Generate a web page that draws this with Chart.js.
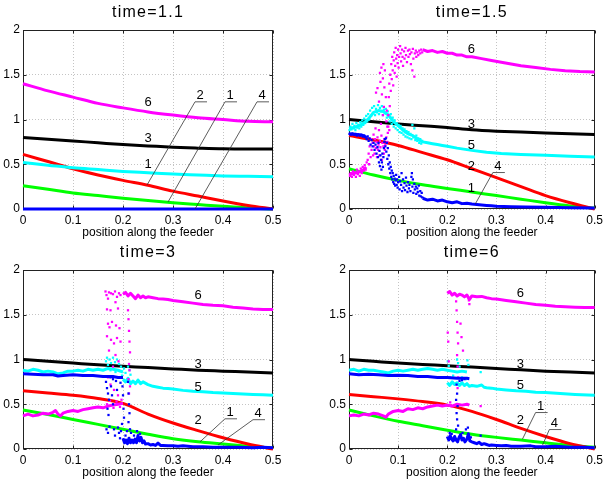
<!DOCTYPE html>
<html>
<head>
<meta charset="utf-8">
<script src="https://cdn.jsdelivr.net/npm/chart.js@4.4.1/dist/chart.umd.min.js"></script>
<style>
  body { margin: 0; background: #fff; }
  #wrap { position: relative; width: 607px; height: 485px; }
  #wrap canvas { position: absolute; }
</style>
</head>
<body>
<div id="wrap">
  <canvas id="c1" width="300" height="240" style="left:0;top:0"></canvas>
  <canvas id="c2" width="307" height="240" style="left:300px;top:0"></canvas>
  <canvas id="c3" width="300" height="245" style="left:0;top:240px"></canvas>
  <canvas id="c4" width="307" height="245" style="left:300px;top:240px"></canvas>
</div>
<script>
  // ---- data ----
  const positions = [0, 0.05, 0.1, 0.15, 0.2, 0.25, 0.3, 0.35, 0.4, 0.45, 0.5];
  const xTickValues = [0, 0.1, 0.2, 0.3, 0.4, 0.5];
  const yTickValues = [0, 0.5, 1, 1.5, 2];
  const panelTitles = ["time=1.1", "time=1.5", "time=3", "time=6"];
  const xAxisLabel = "position along the feeder";

  // time=1.1 (all smooth, on the positions grid)
  const t11Magenta = [1.40, 1.32, 1.25, 1.18, 1.13, 1.085, 1.05, 1.02, 1.0, 0.98, 0.975];
  const t11Black = [0.80, 0.78, 0.76, 0.74, 0.72, 0.705, 0.69, 0.68, 0.672, 0.67, 0.67];
  const t11Cyan = [0.52, 0.49, 0.46, 0.44, 0.42, 0.405, 0.39, 0.38, 0.37, 0.365, 0.36];
  const t11Red = [0.61, 0.53, 0.45, 0.38, 0.32, 0.265, 0.20, 0.145, 0.09, 0.04, 0.0];
  const t11Green = [0.26, 0.22, 0.18, 0.15, 0.12, 0.095, 0.07, 0.05, 0.03, 0.012, 0.0];
  const t11Blue = [0, 0, 0, 0, 0, 0, 0, 0, 0, 0, 0];
  const t11Labels = [[0.25, 1.195, "6"], [0.25, 0.79, "3"], [0.25, 0.50, "1"]];
  const t11Leaders = [[0.354, 1.27, "2", 0.248, 0.268], [0.414, 1.27, "1", 0.29, 0.078], [0.478, 1.27, "4", 0.344, 0.0]];

  // time=1.5
  const t15Black = [1.0, 0.975, 0.95, 0.93, 0.91, 0.885, 0.87, 0.86, 0.85, 0.84, 0.832];
  const t15Red = [0.82, 0.77, 0.71, 0.63, 0.55, 0.45, 0.35, 0.25, 0.15, 0.07, 0.0];
  const t15Green = [0.45, 0.38, 0.32, 0.27, 0.23, 0.19, 0.15, 0.11, 0.07, 0.035, 0.01];
  const t15MagentaLow = [[0, 0.38], [0.01, 0.40], [0.02, 0.41], [0.03, 0.44], [0.035, 0.47]];
  const t15MagentaHigh = [[0.15, 1.78], [0.16, 1.76], [0.17, 1.77], [0.18, 1.75], [0.19, 1.76], [0.2, 1.74], [0.21, 1.74],
    [0.22, 1.72], [0.23, 1.72], [0.24, 1.70], [0.25, 1.70], [0.27, 1.68], [0.29, 1.66], [0.31, 1.64], [0.33, 1.62],
    [0.35, 1.60], [0.38, 1.58], [0.41, 1.56], [0.44, 1.545], [0.47, 1.535], [0.5, 1.53]];
  const t15MagentaDots = [[0.002, 0.37], [0.004, 0.40], [0.006, 0.36], [0.008, 0.42], [0.010, 0.38], [0.012, 0.41],
    [0.014, 0.36], [0.016, 0.44], [0.018, 0.39], [0.020, 0.42], [0.022, 0.37], [0.024, 0.45], [0.026, 0.40],
    [0.028, 0.47], [0.030, 0.43], [0.032, 0.49], [0.034, 0.44], [0.036, 0.52], [0.038, 0.55], [0.040, 0.62],
    [0.041, 0.50], [0.042, 0.70], [0.044, 0.58], [0.045, 0.78], [0.046, 0.66], [0.048, 0.74], [0.049, 0.60],
    [0.050, 0.83], [0.051, 0.70], [0.052, 0.62], [0.053, 0.78], [0.054, 0.90], [0.055, 0.68], [0.056, 0.75],
    [0.057, 0.58], [0.058, 0.80], [0.059, 0.66], [0.060, 0.72], [0.061, 0.88], [0.062, 0.60], [0.063, 0.76],
    [0.064, 0.69], [0.065, 0.95], [0.066, 0.82], [0.067, 0.55], [0.068, 0.74], [0.069, 1.05], [0.055, 1.30],
    [0.058, 1.35], [0.061, 1.20], [0.063, 1.52], [0.064, 1.42], [0.066, 1.58], [0.067, 1.28], [0.069, 1.46],
    [0.070, 1.62], [0.071, 1.14], [0.072, 1.36], [0.073, 1.55], [0.075, 1.25], [0.076, 0.98], [0.077, 1.10],
    [0.078, 0.92], [0.070, 0.70], [0.071, 0.62], [0.072, 0.78], [0.073, 0.66], [0.074, 0.72], [0.076, 0.80],
    [0.078, 0.75], [0.079, 0.85], [0.080, 0.92], [0.082, 0.88], [0.080, 1.05], [0.081, 1.25], [0.082, 1.40],
    [0.083, 1.15], [0.084, 1.50], [0.085, 1.32], [0.086, 1.62], [0.087, 1.45], [0.088, 1.70], [0.089, 1.55],
    [0.090, 1.38], [0.091, 1.66], [0.092, 1.75], [0.093, 1.52], [0.094, 1.60], [0.095, 1.80], [0.096, 1.68],
    [0.097, 1.48], [0.098, 1.72], [0.099, 1.63], [0.100, 1.78], [0.101, 1.58], [0.102, 1.70], [0.104, 1.82],
    [0.105, 1.74], [0.106, 1.65], [0.108, 1.78], [0.109, 1.70], [0.110, 1.60], [0.112, 1.76], [0.113, 1.68],
    [0.115, 1.80], [0.116, 1.72], [0.118, 1.64], [0.120, 1.77], [0.121, 1.70], [0.123, 1.78], [0.124, 1.73],
    [0.126, 1.62], [0.127, 1.75], [0.129, 1.55], [0.130, 1.79], [0.131, 1.68], [0.133, 1.48], [0.134, 1.74],
    [0.136, 1.77], [0.137, 1.70], [0.139, 1.75], [0.141, 1.72], [0.143, 1.77], [0.145, 1.74], [0.147, 1.78],
    [0.149, 1.75]];
  const t15CyanLine = [[0, 0.90], [0.01, 0.91], [0.02, 0.93], [0.03, 0.96], [0.04, 1.01], [0.05, 1.08], [0.06, 1.10],
    [0.07, 1.09], [0.08, 1.05], [0.09, 0.98], [0.10, 0.93], [0.11, 0.88], [0.12, 0.84], [0.13, 0.82], [0.14, 0.78],
    [0.15, 0.75], [0.16, 0.74], [0.17, 0.73], [0.18, 0.72], [0.19, 0.71], [0.2, 0.70], [0.22, 0.68], [0.25, 0.655],
    [0.28, 0.635], [0.31, 0.62], [0.35, 0.61], [0.4, 0.60], [0.45, 0.59], [0.5, 0.58]];
  const t15CyanDots = [[0.001, 0.88], [0.003, 0.92], [0.005, 0.89], [0.007, 0.95], [0.009, 0.90], [0.011, 0.93],
    [0.013, 0.88], [0.015, 0.96], [0.017, 0.91], [0.019, 0.94], [0.021, 0.90], [0.023, 0.97], [0.025, 0.92],
    [0.027, 0.99], [0.029, 0.94], [0.031, 1.01], [0.033, 0.96], [0.035, 1.04], [0.037, 0.98], [0.039, 1.06],
    [0.041, 1.00], [0.043, 1.10], [0.045, 1.04], [0.047, 1.13], [0.049, 1.07], [0.051, 1.15], [0.053, 1.05],
    [0.055, 1.12], [0.057, 1.08], [0.059, 1.16], [0.061, 1.06], [0.063, 1.13], [0.065, 1.09], [0.067, 1.15],
    [0.069, 1.05], [0.071, 1.11], [0.073, 1.07], [0.075, 1.12], [0.077, 1.02], [0.079, 1.09], [0.081, 1.04],
    [0.083, 0.98], [0.085, 1.06], [0.087, 0.95], [0.089, 1.02], [0.091, 0.92], [0.093, 0.99], [0.095, 0.90],
    [0.097, 0.96], [0.099, 0.88], [0.101, 0.94], [0.103, 0.86], [0.105, 0.93], [0.107, 0.85], [0.109, 0.90],
    [0.111, 0.83], [0.113, 0.89], [0.115, 0.81], [0.117, 0.87], [0.119, 0.80], [0.121, 0.86], [0.123, 0.79],
    [0.125, 0.84], [0.127, 0.78], [0.129, 0.94], [0.131, 0.80], [0.133, 0.90], [0.135, 0.77], [0.137, 0.82],
    [0.139, 0.76], [0.141, 0.79], [0.143, 0.74], [0.145, 0.78], [0.147, 0.73], [0.149, 0.76]];
  const t15BlueStart = [[0, 0.84], [0.01, 0.835], [0.02, 0.83], [0.03, 0.82], [0.035, 0.80]];
  const t15BlueTail = [[0.15, 0.12], [0.16, 0.10], [0.17, 0.11], [0.18, 0.09], [0.19, 0.10], [0.2, 0.08], [0.21, 0.07],
    [0.22, 0.08], [0.23, 0.06], [0.24, 0.065], [0.25, 0.055], [0.26, 0.05], [0.27, 0.045], [0.28, 0.04],
    [0.29, 0.035], [0.3, 0.03], [0.33, 0.025], [0.36, 0.022], [0.4, 0.02], [0.45, 0.015], [0.5, 0.012]];
  const t15BlueDots = [[0.001, 0.84], [0.004, 0.83], [0.007, 0.845], [0.010, 0.83], [0.013, 0.84], [0.016, 0.82],
    [0.019, 0.835], [0.022, 0.82], [0.025, 0.83], [0.028, 0.81], [0.031, 0.82], [0.034, 0.80], [0.036, 0.78],
    [0.038, 0.81], [0.040, 0.76], [0.042, 0.79], [0.044, 0.72], [0.046, 0.77], [0.048, 0.70], [0.050, 0.74],
    [0.052, 0.66], [0.054, 0.72], [0.056, 0.62], [0.058, 0.69], [0.059, 0.58], [0.060, 0.74], [0.061, 0.52],
    [0.062, 0.65], [0.063, 0.48], [0.064, 0.60], [0.065, 0.55], [0.066, 0.44], [0.067, 0.52], [0.068, 0.62],
    [0.069, 0.47], [0.070, 0.58], [0.071, 0.68], [0.072, 0.75], [0.073, 0.78], [0.074, 0.70], [0.075, 0.79],
    [0.076, 0.64], [0.077, 0.74], [0.078, 0.56], [0.079, 0.68], [0.080, 0.50], [0.081, 0.60], [0.082, 0.45],
    [0.083, 0.52], [0.084, 0.40], [0.085, 0.47], [0.086, 0.36], [0.087, 0.43], [0.088, 0.33], [0.089, 0.40],
    [0.090, 0.30], [0.091, 0.37], [0.092, 0.28], [0.093, 0.34], [0.094, 0.26], [0.095, 0.32], [0.096, 0.38],
    [0.097, 0.27], [0.098, 0.33], [0.099, 0.24], [0.100, 0.30], [0.102, 0.36], [0.103, 0.22], [0.104, 0.31],
    [0.106, 0.27], [0.107, 0.40], [0.108, 0.20], [0.110, 0.33], [0.111, 0.24], [0.113, 0.29], [0.114, 0.21],
    [0.116, 0.35], [0.117, 0.26], [0.119, 0.19], [0.120, 0.30], [0.122, 0.23], [0.123, 0.27], [0.125, 0.20],
    [0.127, 0.36], [0.128, 0.40], [0.129, 0.25], [0.130, 0.33], [0.131, 0.18], [0.133, 0.28], [0.134, 0.22],
    [0.136, 0.25], [0.137, 0.17], [0.139, 0.23], [0.140, 0.19], [0.142, 0.26], [0.143, 0.15], [0.145, 0.20],
    [0.146, 0.14], [0.148, 0.18], [0.149, 0.13]];
  const t15Labels = [[0.249, 1.78, "6"], [0.249, 0.95, "3"], [0.249, 0.715, "5"], [0.249, 0.48, "2"], [0.249, 0.23, "1"]];
  const t15Leaders = [[0.303, 0.48, "4", 0.257, 0.056]];

  // time=3
  const t3Black = [1.0, 0.98, 0.96, 0.94, 0.925, 0.91, 0.895, 0.88, 0.87, 0.86, 0.85];
  const t3Red = [0.65, 0.625, 0.60, 0.565, 0.51, 0.39, 0.29, 0.205, 0.125, 0.055, 0.0];
  const t3Green = [0.435, 0.385, 0.33, 0.275, 0.22, 0.165, 0.115, 0.08, 0.055, 0.03, 0.01];
  const t3MagentaLow = [[0, 0.37], [0.01, 0.39], [0.02, 0.37], [0.03, 0.38], [0.04, 0.40], [0.05, 0.39], [0.06, 0.41],
    [0.065, 0.43], [0.07, 0.39], [0.075, 0.37], [0.08, 0.40], [0.09, 0.42], [0.1, 0.43], [0.11, 0.42], [0.12, 0.44],
    [0.13, 0.45], [0.14, 0.46], [0.15, 0.47], [0.16, 0.46], [0.17, 0.48], [0.18, 0.49], [0.19, 0.50], [0.2, 0.51]];
  const t3MagentaHigh = [[0.2, 1.73], [0.205, 1.75], [0.21, 1.71], [0.215, 1.74], [0.22, 1.71], [0.225, 1.68],
    [0.23, 1.72], [0.235, 1.69], [0.24, 1.71], [0.245, 1.69], [0.25, 1.70], [0.26, 1.69], [0.27, 1.68],
    [0.28, 1.675], [0.29, 1.67], [0.3, 1.66], [0.32, 1.645], [0.34, 1.63], [0.36, 1.615], [0.38, 1.605],
    [0.4, 1.60], [0.42, 1.585], [0.44, 1.575], [0.46, 1.565], [0.48, 1.56], [0.5, 1.56]];
  const t3MagentaDots = [[0.165, 1.76], [0.167, 1.72], [0.170, 1.68], [0.172, 1.75], [0.176, 1.74], [0.180, 1.73],
    [0.184, 1.76], [0.188, 1.70], [0.192, 1.74], [0.195, 1.72], [0.185, 1.64], [0.168, 1.56], [0.175, 1.55],
    [0.190, 1.57], [0.170, 1.40], [0.173, 1.36], [0.178, 1.42], [0.186, 1.38], [0.193, 1.35], [0.168, 1.26],
    [0.176, 1.22], [0.182, 1.18], [0.188, 1.24], [0.195, 1.20], [0.172, 1.10], [0.185, 1.05], [0.191, 0.98],
    [0.180, 0.92], [0.170, 0.80], [0.175, 0.72], [0.182, 0.66], [0.190, 0.60], [0.197, 0.55], [0.210, 1.55],
    [0.211, 1.45], [0.212, 1.32], [0.213, 1.20], [0.214, 1.08], [0.212, 0.95], [0.213, 0.88], [0.211, 0.78],
    [0.214, 0.70], [0.212, 0.62], [0.168, 0.50], [0.174, 0.54], [0.181, 0.46], [0.187, 0.53], [0.194, 0.47]];
  const t3CyanHigh = [[0, 0.88], [0.01, 0.87], [0.02, 0.89], [0.03, 0.88], [0.04, 0.86], [0.05, 0.87], [0.06, 0.86],
    [0.07, 0.84], [0.08, 0.85], [0.09, 0.87], [0.1, 0.87], [0.11, 0.88], [0.12, 0.87], [0.13, 0.89], [0.14, 0.88],
    [0.15, 0.89], [0.16, 0.88], [0.17, 0.90], [0.18, 0.89], [0.19, 0.88], [0.2, 0.86]];
  const t3CyanLow = [[0.2, 0.78], [0.205, 0.75], [0.21, 0.79], [0.215, 0.73], [0.22, 0.76], [0.225, 0.73], [0.23, 0.77],
    [0.235, 0.73], [0.24, 0.75], [0.25, 0.72], [0.26, 0.70], [0.27, 0.69], [0.28, 0.68], [0.29, 0.675], [0.3, 0.67],
    [0.32, 0.655], [0.34, 0.645], [0.36, 0.64], [0.38, 0.63], [0.4, 0.625], [0.42, 0.62], [0.44, 0.615],
    [0.46, 0.61], [0.48, 0.605], [0.5, 0.60]];
  const t3CyanDots = [[0.166, 0.98], [0.168, 1.02], [0.170, 0.94], [0.173, 1.00], [0.176, 0.96], [0.180, 1.02],
    [0.184, 0.97], [0.188, 1.00], [0.192, 0.95], [0.196, 0.92], [0.175, 0.88], [0.185, 0.86], [0.198, 0.82],
    [0.202, 0.90], [0.205, 0.85], [0.210, 0.92], [0.213, 0.88], [0.215, 0.83]];
  const t3BlueHigh = [[0, 0.84], [0.02, 0.835], [0.04, 0.83], [0.06, 0.83], [0.07, 0.815], [0.08, 0.82], [0.1, 0.83],
    [0.12, 0.82], [0.14, 0.82], [0.16, 0.81], [0.18, 0.81], [0.19, 0.80], [0.2, 0.80]];
  const t3BlueLow = [[0.2, 0.12], [0.203, 0.07], [0.206, 0.10], [0.209, 0.06], [0.212, 0.12], [0.215, 0.07],
    [0.218, 0.10], [0.221, 0.07], [0.224, 0.11], [0.227, 0.07], [0.23, 0.15], [0.233, 0.09], [0.236, 0.13],
    [0.239, 0.07], [0.242, 0.09], [0.245, 0.055], [0.25, 0.06], [0.255, 0.045], [0.26, 0.05], [0.265, 0.04],
    [0.27, 0.065], [0.275, 0.04], [0.28, 0.04], [0.29, 0.035], [0.3, 0.035], [0.31, 0.03], [0.32, 0.035],
    [0.34, 0.025], [0.36, 0.025], [0.38, 0.02], [0.4, 0.02], [0.43, 0.02], [0.46, 0.015], [0.48, 0.02], [0.5, 0.015]];
  const t3BlueDots = [[0.166, 0.75], [0.168, 0.68], [0.170, 0.62], [0.172, 0.55], [0.169, 0.45], [0.171, 0.38],
    [0.167, 0.22], [0.170, 0.18], [0.173, 0.25], [0.176, 0.70], [0.178, 0.60], [0.180, 0.50], [0.182, 0.22],
    [0.184, 0.15], [0.186, 0.76], [0.188, 0.66], [0.190, 0.24], [0.192, 0.18], [0.194, 0.12], [0.196, 0.20],
    [0.198, 0.28], [0.200, 0.60], [0.201, 0.45], [0.202, 0.35], [0.199, 0.70], [0.210, 0.75], [0.211, 0.62],
    [0.212, 0.50], [0.213, 0.40], [0.211, 0.30], [0.214, 0.22], [0.175, 0.80], [0.180, 0.78], [0.195, 0.74],
    [0.205, 0.15], [0.208, 0.20], [0.216, 0.18], [0.222, 0.15], [0.228, 0.20], [0.234, 0.17]];
  const t3Labels = [[0.35, 1.72, "6"], [0.35, 0.95, "3"], [0.35, 0.69, "5"], [0.35, 0.32, "2"]];
  const t3Leaders = [[0.414, 0.41, "1", 0.354, 0.08], [0.47, 0.40, "4", 0.39, 0.045]];

  // time=6
  const t6Black = [1.0, 0.98, 0.96, 0.945, 0.93, 0.915, 0.90, 0.885, 0.87, 0.86, 0.85];
  const t6Red = [0.61, 0.585, 0.56, 0.53, 0.49, 0.42, 0.33, 0.23, 0.14, 0.06, 0.0];
  const t6Green = [0.435, 0.37, 0.31, 0.26, 0.21, 0.165, 0.13, 0.10, 0.07, 0.04, 0.02];
  const t6MagentaLow = [[0, 0.37], [0.01, 0.38], [0.02, 0.37], [0.03, 0.39], [0.04, 0.38], [0.05, 0.40], [0.06, 0.39],
    [0.07, 0.37], [0.075, 0.355], [0.08, 0.39], [0.09, 0.42], [0.1, 0.43], [0.11, 0.42], [0.12, 0.45], [0.13, 0.44],
    [0.14, 0.46], [0.15, 0.45], [0.16, 0.47], [0.17, 0.48], [0.18, 0.49], [0.19, 0.48], [0.2, 0.49], [0.21, 0.48],
    [0.22, 0.50], [0.23, 0.49], [0.24, 0.50], [0.245, 0.49]];
  const t6MagentaHigh = [[0.2, 1.74], [0.205, 1.76], [0.21, 1.72], [0.215, 1.74], [0.22, 1.71], [0.225, 1.73],
    [0.23, 1.72], [0.235, 1.70], [0.24, 1.72], [0.245, 1.67], [0.25, 1.71], [0.26, 1.70], [0.27, 1.705],
    [0.28, 1.69], [0.29, 1.68], [0.3, 1.675], [0.32, 1.66], [0.34, 1.645], [0.36, 1.63], [0.38, 1.615],
    [0.4, 1.605], [0.42, 1.595], [0.44, 1.59], [0.46, 1.585], [0.48, 1.58], [0.5, 1.58]];
  const t6MagentaDots = [[0.201, 1.30], [0.202, 1.20], [0.203, 0.98], [0.218, 1.65], [0.219, 1.55], [0.220, 1.42],
    [0.221, 1.30], [0.222, 1.18], [0.220, 1.05], [0.221, 0.92], [0.222, 0.80], [0.221, 0.68], [0.229, 1.25],
    [0.232, 1.10], [0.245, 1.62], [0.244, 1.66], [0.227, 1.40], [0.268, 0.48], [0.206, 0.52], [0.215, 0.49]];
  const t6CyanHigh = [[0, 0.88], [0.01, 0.89], [0.02, 0.87], [0.03, 0.89], [0.04, 0.88], [0.05, 0.88], [0.06, 0.87],
    [0.07, 0.86], [0.08, 0.85], [0.09, 0.87], [0.1, 0.88], [0.11, 0.87], [0.12, 0.88], [0.13, 0.89], [0.14, 0.88],
    [0.15, 0.89], [0.16, 0.90], [0.17, 0.89], [0.18, 0.88], [0.19, 0.89], [0.2, 0.88], [0.21, 0.87], [0.22, 0.86],
    [0.23, 0.87], [0.24, 0.86]];
  const t6CyanLow = [[0.2, 0.74], [0.205, 0.71], [0.21, 0.75], [0.215, 0.72], [0.22, 0.74], [0.225, 0.71], [0.23, 0.74],
    [0.235, 0.71], [0.24, 0.73], [0.245, 0.70], [0.25, 0.71], [0.26, 0.70], [0.27, 0.715], [0.275, 0.69],
    [0.28, 0.685], [0.29, 0.68], [0.3, 0.67], [0.32, 0.66], [0.34, 0.65], [0.36, 0.645], [0.38, 0.635],
    [0.4, 0.63], [0.43, 0.62], [0.46, 0.61], [0.5, 0.60]];
  const t6CyanDots = [[0.201, 0.98], [0.203, 0.93], [0.220, 1.00], [0.222, 0.96], [0.225, 0.92], [0.241, 0.99],
    [0.243, 0.94], [0.268, 0.86], [0.205, 0.80], [0.212, 0.82], [0.230, 0.80], [0.238, 0.78]];
  const t6BlueHigh = [[0, 0.84], [0.02, 0.83], [0.04, 0.835], [0.06, 0.83], [0.08, 0.82], [0.1, 0.825], [0.12, 0.82],
    [0.14, 0.81], [0.16, 0.81], [0.18, 0.80], [0.2, 0.80], [0.22, 0.79], [0.24, 0.79], [0.245, 0.785]];
  const t6BlueLow = [[0.2, 0.14], [0.203, 0.10], [0.206, 0.15], [0.209, 0.11], [0.212, 0.09], [0.215, 0.14],
    [0.218, 0.10], [0.221, 0.08], [0.224, 0.13], [0.227, 0.16], [0.23, 0.10], [0.233, 0.12], [0.236, 0.08],
    [0.24, 0.11], [0.243, 0.17], [0.246, 0.09], [0.25, 0.08], [0.255, 0.07], [0.26, 0.06], [0.265, 0.075],
    [0.27, 0.05], [0.275, 0.06], [0.28, 0.05], [0.285, 0.04], [0.29, 0.045], [0.3, 0.04], [0.31, 0.035],
    [0.32, 0.04], [0.33, 0.03], [0.35, 0.03], [0.37, 0.035], [0.38, 0.025], [0.4, 0.025], [0.42, 0.03],
    [0.45, 0.02], [0.48, 0.02], [0.5, 0.015]];
  const t6BlueDots = [[0.219, 0.72], [0.220, 0.62], [0.218, 0.55], [0.221, 0.48], [0.219, 0.40], [0.220, 0.33],
    [0.222, 0.26], [0.218, 0.22], [0.205, 0.18], [0.202, 0.12], [0.238, 0.22], [0.242, 0.24], [0.268, 0.15],
    [0.230, 0.77], [0.225, 0.76], [0.235, 0.78], [0.209, 0.17], [0.231, 0.18], [0.248, 0.13]];
  const t6Labels = [[0.349, 1.74, "6"], [0.349, 0.95, "3"], [0.349, 0.715, "5"], [0.349, 0.32, "2"]];
  const t6Leaders = [[0.39, 0.48, "1", 0.353, 0.11], [0.418, 0.29, "4", 0.394, 0.045]];

  // ---- styling / chart building ----
  const C = { magenta: "#ff00ff", cyan: "#00ffff", black: "#000000", red: "#ff0000", green: "#00ff00", blue: "#0000ff" };
  // lower order is drawn on top
  const ORDER = { blue: 1, magenta: 2, cyan: 3, red: 4, green: 5, black: 6 };
  const FONT = "'Liberation Sans', Arial, sans-serif";

  function smooth(ys, color) {
    return {
      data: ys.map((y, i) => ({ x: positions[i], y })),
      showLine: true, borderColor: C[color], borderWidth: 3, pointRadius: 0,
      cubicInterpolationMode: "monotone", order: ORDER[color], clip: 4,
    };
  }
  function jagged(pts, color) {
    return {
      data: pts.map((p) => ({ x: p[0], y: p[1] })),
      showLine: true, borderColor: C[color], borderWidth: 3, pointRadius: 0,
      borderJoinStyle: "round", tension: 0, order: ORDER[color], clip: 4,
    };
  }
  function dots(pts, color) {
    return {
      data: pts.map((p) => ({ x: p[0], y: p[1] })),
      showLine: false, backgroundColor: C[color], borderWidth: 0, pointRadius: 1.6,
      pointStyle: "rect", order: ORDER[color], clip: 4,
    };
  }

  function makeDeco(title, labels, leaders) {
    return {
      id: "deco",
      beforeDatasetsDraw(chart) {
        const { ctx, chartArea: a, scales } = chart;
        const l = Math.round(a.left) + 0.5, r = Math.round(a.right) - 0.5;
        const t = Math.round(a.top) + 0.5, b = Math.round(a.bottom) - 0.5;
        ctx.save();
        ctx.strokeStyle = "#222";
        ctx.lineWidth = 1;
        ctx.strokeRect(l, t, r - l, b - t);
        ctx.beginPath();
        xTickValues.forEach((v) => {
          const px = Math.round(scales.x.getPixelForValue(v)) + 0.5;
          ctx.moveTo(px, b); ctx.lineTo(px, b - 3);
          ctx.moveTo(px, t); ctx.lineTo(px, t + 3);
        });
        yTickValues.forEach((v) => {
          const py = Math.round(scales.y.getPixelForValue(v)) + 0.5;
          ctx.moveTo(l, py); ctx.lineTo(l + 3, py);
          ctx.moveTo(r, py); ctx.lineTo(r - 3, py);
        });
        ctx.stroke();
        ctx.restore();
      },
      afterDatasetsDraw(chart) {
        const { ctx, chartArea: a, scales } = chart;
        const X = (v) => scales.x.getPixelForValue(v);
        const Y = (v) => scales.y.getPixelForValue(v);
        ctx.save();
        ctx.fillStyle = "#000";
        ctx.textAlign = "center";
        ctx.textBaseline = "middle";
        // title
        ctx.font = "16px " + FONT;
        if ("letterSpacing" in ctx) ctx.letterSpacing = "1.3px";
        ctx.fillText(title, (a.left + a.right) / 2, 13);
        if ("letterSpacing" in ctx) ctx.letterSpacing = "0px";
        // x axis label
        ctx.font = "12px " + FONT;
        ctx.fillText(xAxisLabel, (a.left + a.right) / 2, a.bottom + 24);
        // curve numbers
        ctx.font = "13px " + FONT;
        labels.forEach(([x, y, s]) => ctx.fillText(s, X(x), Y(y)));
        // numbers with leader lines
        ctx.strokeStyle = "#333";
        ctx.lineWidth = 0.8;
        leaders.forEach(([x, y, s, tx, ty]) => {
          const cx = X(x), cy = Y(y);
          ctx.fillText(s, cx, cy);
          ctx.beginPath();
          ctx.moveTo(cx + 7, cy + 6.5);
          ctx.lineTo(cx - 5, cy + 6.5);
          ctx.lineTo(X(tx), Y(ty));
          ctx.stroke();
        });
        ctx.restore();
      },
    };
  }

  function panel(id, title, datasets, labels, leaders, yAxisWidth, xAxisHeight, rightPad) {
    const tickFont = { family: FONT, size: 12 };
    new Chart(document.getElementById(id), {
      type: "scatter",
      data: { datasets },
      options: {
        responsive: false,
        animation: false,
        devicePixelRatio: 1,
        layout: { padding: { left: 0, right: rightPad, top: 30, bottom: 0 } },
        plugins: { legend: { display: false }, tooltip: { enabled: false } },
        scales: {
          x: {
            type: "linear", min: 0, max: 0.5,
            afterBuildTicks: (s) => { s.ticks = xTickValues.map((v) => ({ value: v })); },
            afterFit: (s) => { s.height = xAxisHeight; },
            ticks: { font: tickFont, color: "#000", padding: 4, maxRotation: 0, autoSkip: false, callback: (v) => String(v) },
            grid: { color: "#c4c4c4", drawTicks: false },
            border: { display: false, dash: [1, 2] },
          },
          y: {
            type: "linear", min: 0, max: 2,
            afterBuildTicks: (s) => { s.ticks = yTickValues.map((v) => ({ value: v })); },
            afterFit: (s) => { s.width = yAxisWidth; },
            ticks: { font: tickFont, color: "#000", padding: 3, autoSkip: false, callback: (v) => String(v) },
            grid: { color: "#c4c4c4", drawTicks: false },
            border: { display: false, dash: [1, 2] },
          },
        },
      },
      plugins: [makeDeco(title, labels, leaders)],
    });
  }

  panel("c1", panelTitles[0], [
    smooth(t11Blue, "blue"), smooth(t11Magenta, "magenta"), smooth(t11Cyan, "cyan"),
    smooth(t11Red, "red"), smooth(t11Green, "green"), smooth(t11Black, "black"),
  ], t11Labels, t11Leaders, 23, 31, 27);

  panel("c2", panelTitles[1], [
    dots(t15BlueDots, "blue"), jagged(t15BlueStart, "blue"), jagged(t15BlueTail, "blue"),
    dots(t15MagentaDots, "magenta"), jagged(t15MagentaLow, "magenta"), jagged(t15MagentaHigh, "magenta"),
    dots(t15CyanDots, "cyan"), jagged(t15CyanLine, "cyan"),
    smooth(t15Red, "red"), smooth(t15Green, "green"), smooth(t15Black, "black"),
  ], t15Labels, t15Leaders, 49, 31, 9);

  panel("c3", panelTitles[2], [
    dots(t3BlueDots, "blue"), jagged(t3BlueHigh, "blue"), jagged(t3BlueLow, "blue"),
    dots(t3MagentaDots, "magenta"), jagged(t3MagentaLow, "magenta"), jagged(t3MagentaHigh, "magenta"),
    dots(t3CyanDots, "cyan"), jagged(t3CyanHigh, "cyan"), jagged(t3CyanLow, "cyan"),
    smooth(t3Red, "red"), smooth(t3Green, "green"), smooth(t3Black, "black"),
  ], t3Labels, t3Leaders, 23, 36, 27);

  panel("c4", panelTitles[3], [
    dots(t6BlueDots, "blue"), jagged(t6BlueHigh, "blue"), jagged(t6BlueLow, "blue"),
    dots(t6MagentaDots, "magenta"), jagged(t6MagentaLow, "magenta"), jagged(t6MagentaHigh, "magenta"),
    dots(t6CyanDots, "cyan"), jagged(t6CyanHigh, "cyan"), jagged(t6CyanLow, "cyan"),
    smooth(t6Red, "red"), smooth(t6Green, "green"), smooth(t6Black, "black"),
  ], t6Labels, t6Leaders, 49, 36, 9);
</script>
</body>
</html>
